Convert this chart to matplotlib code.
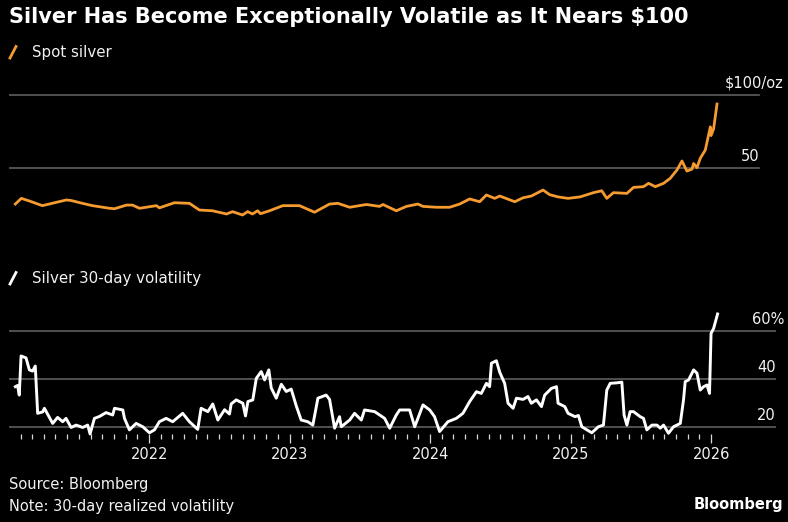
import numpy as np
import pandas as pd
import matplotlib
matplotlib.use("Agg")
import matplotlib.pyplot as plt
import matplotlib.dates as mdates
import matplotlib.transforms as mtransforms
from matplotlib.lines import Line2D
from datetime import datetime, timedelta

# spot silver, $/oz (decimal year, value)
silver_t = [2021.045, 2021.088, 2021.145, 2021.237, 2021.408, 2021.444, 2021.522, 2021.594,
            2021.715, 2021.751, 2021.836, 2021.879, 2021.929, 2022.050, 2022.071, 2022.178,
            2022.285, 2022.356, 2022.449, 2022.549, 2022.592, 2022.663, 2022.699, 2022.734,
            2022.770, 2022.791, 2022.855, 2022.950, 2023.069, 2023.176, 2023.283, 2023.342,
            2023.426, 2023.545, 2023.639, 2023.663, 2023.758, 2023.830, 2023.912, 2023.948,
            2024.044, 2024.138, 2024.210, 2024.281, 2024.352, 2024.400, 2024.459, 2024.495,
            2024.602, 2024.661, 2024.720, 2024.803, 2024.851, 2024.910, 2024.981, 2025.065,
            2025.160, 2025.219, 2025.255, 2025.302, 2025.398, 2025.445, 2025.516, 2025.552,
            2025.600, 2025.659, 2025.706, 2025.754, 2025.790, 2025.825, 2025.861, 2025.873,
            2025.897, 2025.920, 2025.956, 2025.992, 2025.997, 2026.016, 2026.040]
silver_v = [25.1, 29.0, 27.2, 24.0, 27.9, 27.5, 25.6, 24.0,
            22.2, 21.9, 24.4, 24.4, 22.2, 24.0, 22.5, 26.0,
            25.6, 21.0, 20.5, 18.3, 19.9, 17.6, 19.9, 18.3,
            20.5, 18.5, 20.5, 24.0, 24.0, 19.5, 25.1, 25.6,
            22.9, 24.8, 23.5, 24.8, 20.5, 23.5, 25.1, 23.5,
            22.9, 22.9, 25.1, 28.6, 26.7, 31.3, 29.0, 30.6,
            26.7, 29.4, 30.6, 34.7, 31.5, 30.0, 29.0, 30.0,
            32.9, 34.2, 29.0, 32.9, 32.4, 36.5, 37.0, 39.3,
            37.0, 39.3, 42.7, 48.4, 54.6, 47.7, 49.0, 52.9,
            50.0, 56.4, 62.1, 78.0, 72.0, 76.7, 93.6]

# 30-day realized volatility, %
vol_t = [2021.045, 2021.061, 2021.073, 2021.086, 2021.121, 2021.145, 2021.168, 2021.187,
         2021.204, 2021.240, 2021.252, 2021.311, 2021.346, 2021.382, 2021.406, 2021.442,
         2021.478, 2021.525, 2021.560, 2021.577, 2021.608, 2021.644, 2021.691, 2021.738,
         2021.751, 2021.810, 2021.822, 2021.857, 2021.905, 2021.952, 2022.000, 2022.036,
         2022.071, 2022.119, 2022.166, 2022.237, 2022.285, 2022.344, 2022.368, 2022.416,
         2022.451, 2022.487, 2022.535, 2022.570, 2022.582, 2022.618, 2022.665, 2022.684,
         2022.701, 2022.736, 2022.761, 2022.796, 2022.820, 2022.850, 2022.867, 2022.903,
         2022.939, 2022.974, 2023.010, 2023.046, 2023.081, 2023.128, 2023.164, 2023.200,
         2023.259, 2023.283, 2023.319, 2023.354, 2023.366, 2023.426, 2023.461, 2023.509,
         2023.532, 2023.604, 2023.639, 2023.675, 2023.711, 2023.758, 2023.782, 2023.853,
         2023.889, 2023.948, 2023.996, 2024.031, 2024.067, 2024.126, 2024.186, 2024.233,
         2024.281, 2024.329, 2024.364, 2024.400, 2024.423, 2024.436, 2024.471, 2024.495,
         2024.530, 2024.554, 2024.590, 2024.614, 2024.661, 2024.696, 2024.720, 2024.756,
         2024.792, 2024.815, 2024.863, 2024.899, 2024.910, 2024.958, 2024.981, 2025.029,
         2025.053, 2025.077, 2025.148, 2025.195, 2025.231, 2025.255, 2025.279, 2025.326,
         2025.362, 2025.378, 2025.398, 2025.421, 2025.445, 2025.493, 2025.516, 2025.540,
         2025.576, 2025.612, 2025.635, 2025.659, 2025.694, 2025.730, 2025.778, 2025.801,
         2025.813, 2025.837, 2025.873, 2025.897, 2025.920, 2025.944, 2025.968, 2025.986,
         2025.997, 2026.016, 2026.044]
vol_v = [37.0, 37.5, 33.5, 49.8, 49.0, 44.0, 43.5, 45.6,
         25.9, 26.5, 28.0, 21.7, 24.2, 22.4, 23.8, 20.0,
         21.0, 20.0, 21.0, 17.3, 23.8, 24.6, 26.2, 25.2,
         28.0, 27.3, 23.8, 19.0, 21.7, 20.3, 17.8, 19.0,
         22.4, 23.8, 22.4, 25.9, 22.4, 19.2, 28.0, 26.6,
         29.8, 23.1, 27.4, 25.6, 29.8, 31.5, 30.1, 24.8,
         30.8, 31.5, 40.5, 43.3, 39.8, 44.0, 36.5, 32.2,
         38.0, 35.0, 36.0, 29.0, 23.1, 22.4, 21.0, 32.2,
         33.5, 31.7, 19.7, 24.5, 20.3, 23.1, 25.9, 23.1,
         27.3, 26.6, 25.2, 23.8, 19.7, 25.2, 27.3, 27.3,
         20.3, 29.4, 27.3, 24.5, 18.3, 22.4, 23.8, 25.9,
         30.8, 34.9, 34.2, 38.4, 37.0, 46.8, 47.8, 43.0,
         38.4, 30.1, 28.0, 32.2, 31.7, 32.9, 30.1, 31.5,
         28.7, 33.5, 36.3, 37.0, 30.1, 28.7, 25.9, 24.5,
         25.0, 20.3, 17.8, 20.3, 21.0, 35.6, 38.4, 38.6,
         38.9, 25.2, 21.0, 26.6, 26.6, 24.5, 23.8, 19.0,
         21.0, 21.0, 19.7, 21.0, 17.6, 20.3, 21.7, 31.5,
         39.1, 39.8, 44.0, 42.6, 35.6, 37.0, 37.7, 34.2,
         59.2, 61.3, 67.3]

silver_grid = [50, 100]
silver_labels = ["50", "$100/oz"]
vol_grid = [20, 40, 60]
vol_labels = ["20", "40", "60%"]
years = [2022, 2023, 2024, 2025, 2026]


def to_dates(yrs):
    out = []
    for y in yrs:
        y0 = int(y)
        out.append(datetime(y0, 1, 1) + timedelta(days=(y - y0) * 365.25))
    return out


W, H = 788, 522
ORANGE = "#f59b2f"
GRID = "#5e5e5e"
TXT = "#f2f2f2"

fig = plt.figure(figsize=(W / 100, H / 100), dpi=100, facecolor="black")
plt.rcParams["font.family"] = ["DejaVu Sans"]


def px_ax(left, top, right, bottom):
    return fig.add_axes([left / W, 1 - bottom / H, (right - left) / W, (bottom - top) / H])


x0 = datetime(2021, 1, 1)
x1 = datetime(2026, 6, 18)

# top panel: spot silver
ax1 = px_ax(9, 80.1, 776, 240.7)
ax1.set_facecolor("black")
ax1.set_xlim(x0, x1)
ax1.set_ylim(0, 110)
for g in silver_grid:
    ax1.axhline(g, xmin=0, xmax=(759 - 9) / 767, color=GRID, lw=1.2, zorder=1)
ax1.plot(to_dates(silver_t), silver_v, color=ORANGE, lw=2.0, zorder=3,
         solid_joinstyle="round")
ax1.axis("off")

tr1 = mtransforms.blended_transform_factory(fig.transFigure, ax1.transData)
lbl_off = mtransforms.offset_copy(tr1, fig=fig, y=4, units="dots")
ax1.text(783 / W, 100, silver_labels[1], transform=lbl_off, ha="right", va="bottom",
         color=TXT, fontsize=10.5)
ax1.text(759 / W, 50, silver_labels[0], transform=lbl_off, ha="right", va="bottom",
         color=TXT, fontsize=10.5)

# bottom panel: volatility
ax2 = px_ax(9, 307.5, 776, 434.2)
ax2.set_facecolor("black")
ax2.set_xlim(x0, x1)
ax2.set_ylim(17.2, 70)
for g in vol_grid:
    ax2.axhline(g, color=GRID, lw=1.2, zorder=1)
ax2.plot(to_dates(vol_t), vol_v, color="white", lw=2.1, zorder=3, clip_on=False,
         solid_joinstyle="round")
for s in ax2.spines.values():
    s.set_visible(False)
ax2.set_yticks([])

minor = [d for d in pd.date_range("2021-02-01", "2025-12-01", freq="MS") if d.month != 1]
ax2.set_xticks([datetime(y, 1, 1) for y in years])
ax2.set_xticklabels([str(y) for y in years])
ax2.set_xticks(minor, minor=True)
ax2.tick_params(axis="x", which="major", length=6.2, width=0.9, color="#d8d8d8",
                labelcolor=TXT, labelsize=10.5, pad=3)
ax2.tick_params(axis="x", which="minor", length=3.3, width=0.9, color="#d8d8d8")

tr2 = mtransforms.blended_transform_factory(fig.transFigure, ax2.transData)
lbl_off2 = mtransforms.offset_copy(tr2, fig=fig, y=4, units="dots")
ax2.text(784 / W, 60, vol_labels[2], transform=lbl_off2, ha="right", va="bottom",
         color=TXT, fontsize=10.5)
for g, l in zip(vol_grid[:2], vol_labels[:2]):
    ax2.text(776 / W, g, l, transform=lbl_off2, ha="right", va="bottom",
             color=TXT, fontsize=10.5)

# title and legends
fig.text(9 / W, 1 - 17 / H, "Silver Has Become Exceptionally Volatile as It Nears $100",
         ha="left", va="center", color="white", fontsize=15, fontweight="bold")

fig.add_artist(Line2D([10 / W, 16 / W], [1 - 58 / H, 1 - 46.5 / H],
                      color=ORANGE, lw=2, transform=fig.transFigure))
fig.text(32 / W, 1 - 52 / H, "Spot silver", ha="left", va="center", color=TXT, fontsize=10.8)

fig.add_artist(Line2D([10 / W, 16 / W], [1 - 284 / H, 1 - 272.5 / H],
                      color="white", lw=2, transform=fig.transFigure))
fig.text(32 / W, 1 - 278 / H, "Silver 30-day volatility", ha="left", va="center",
         color=TXT, fontsize=10.8)

# footer
fig.text(9 / W, 1 - 485 / H, "Source: Bloomberg", ha="left", va="center",
         color=TXT, fontsize=10.5)
fig.text(9 / W, 1 - 507 / H, "Note: 30-day realized volatility", ha="left", va="center",
         color=TXT, fontsize=10.5)
fig.text(783 / W, 1 - 505 / H, "Bloomberg", ha="right", va="center",
         color="white", fontsize=10.5, fontweight="bold")

fig.savefig("out.png", dpi=100, facecolor="black")
